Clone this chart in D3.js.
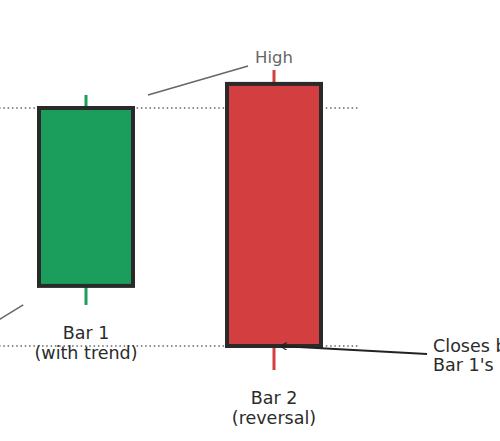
<!DOCTYPE html>
<html>
<head>
<meta charset="utf-8">
<script src="https://cdn.jsdelivr.net/npm/d3@7"></script>
<style>
  html, body { margin: 0; padding: 0; background: #fff; overflow: hidden; }
  text { font-family: "DejaVu Sans", sans-serif; }
</style>
</head>
<body>
<div id="chart"></div>
<script>
// two candles, price values
var barNames = ["Bar 1", "Bar 2"];
var barNotes = ["(with trend)", "(reversal)"];
var barPos   = [1, 2];
var opens    = [102.02, 108.81];
var closes   = [108.00, 100.00];
var highs    = [108.44, 109.28];
var lows     = [101.38, 99.19];

// reference levels (dotted)
var levels = [108.00, 100.00];

var width = 500,
    height = 441;

var x = d3.scaleLinear().domain([1, 2]).range([86, 274]),
    y = d3.scaleLinear().domain([100, 108]).range([346, 108]);

var halfW = 0.25;

var svg = d3.select("#chart").append("svg")
    .attr("width", width)
    .attr("height", height);

svg.append("defs").append("marker")
    .attr("id", "head")
    .attr("viewBox", "0 0 10 10")
    .attr("refX", 9)
    .attr("refY", 5)
    .attr("markerWidth", 4)
    .attr("markerHeight", 4)
    .attr("markerUnits", "strokeWidth")
    .attr("orient", "auto")
  .append("path")
    .attr("d", "M0,0L9,5L0,10")
    .attr("fill", "none")
    .attr("stroke", "#222")
    .attr("stroke-width", 1.4);

// dotted levels
svg.selectAll(".level")
    .data(levels)
  .enter().append("line")
    .attr("class", "level")
    .attr("x1", x(0.4))
    .attr("x2", x(2.447))
    .attr("y1", function(d) { return y(d); })
    .attr("y2", function(d) { return y(d); })
    .attr("stroke", "#666")
    .attr("stroke-width", 1.5)
    .attr("stroke-dasharray", "1.5,2.8");

var candle = svg.selectAll(".candle")
    .data(barPos)
  .enter().append("g")
    .attr("class", "candle");

// wicks
candle.append("line")
    .attr("x1", function(d) { return x(d); })
    .attr("x2", function(d) { return x(d); })
    .attr("y1", function(d, i) { return y(highs[i]); })
    .attr("y2", function(d, i) { return y(lows[i]); })
    .attr("stroke", function(d, i) { return closes[i] >= opens[i] ? "#1a9e5b" : "#d43f3f"; })
    .attr("stroke-width", 3);

// bodies
candle.append("rect")
    .attr("x", function(d) { return x(d - halfW); })
    .attr("width", function(d) { return x(d + halfW) - x(d - halfW); })
    .attr("y", function(d, i) { return y(Math.max(opens[i], closes[i])); })
    .attr("height", function(d, i) { return Math.abs(y(opens[i]) - y(closes[i])); })
    .attr("fill", function(d, i) { return closes[i] >= opens[i] ? "#1b9e5b" : "#d33e40"; })
    .attr("stroke", "#2a2a2a")
    .attr("stroke-width", 4);

// labels under each candle
var lbl = candle.append("text")
    .attr("text-anchor", "middle")
    .attr("fill", "#2b2b2b")
    .style("font-size", "17.5px");
lbl.append("tspan")
    .attr("x", function(d) { return x(d); })
    .attr("y", function(d, i) { return y(lows[i]) + 34; })
    .text(function(d, i) { return barNames[i]; });
lbl.append("tspan")
    .attr("x", function(d) { return x(d); })
    .attr("dy", 20)
    .text(function(d, i) { return barNotes[i]; });

// "High" callout
svg.append("line")
    .attr("x1", x(1.33)).attr("y1", y(108.437))
    .attr("x2", x(1.862)).attr("y2", y(109.41))
    .attr("stroke", "#666")
    .attr("stroke-width", 1.5);
svg.append("text")
    .attr("x", x(2))
    .attr("y", y(109.51))
    .attr("text-anchor", "middle")
    .attr("fill", "#666")
    .style("font-size", "16.5px")
    .text("High");

// left callout line (its label is outside the frame)
svg.append("line")
    .attr("x1", x(0.666)).attr("y1", y(101.38))
    .attr("x2", x(0.45)).attr("y2", y(100.55))
    .attr("stroke", "#666")
    .attr("stroke-width", 1.5);

// arrow to bar 2 close
svg.append("line")
    .attr("x1", x(2.814)).attr("y1", y(99.73))
    .attr("x2", x(2.032)).attr("y2", y(100.0))
    .attr("stroke", "#222")
    .attr("stroke-width", 2)
    .attr("marker-end", "url(#head)");

var note = svg.append("text")
    .attr("fill", "#2b2b2b")
    .style("font-size", "17.5px");
note.append("tspan")
    .attr("x", x(2.846))
    .attr("y", y(99.80))
    .text("Closes below");
note.append("tspan")
    .attr("x", x(2.846))
    .attr("dy", 19.5)
    .text("Bar 1's low");
</script>
</body>
</html>
